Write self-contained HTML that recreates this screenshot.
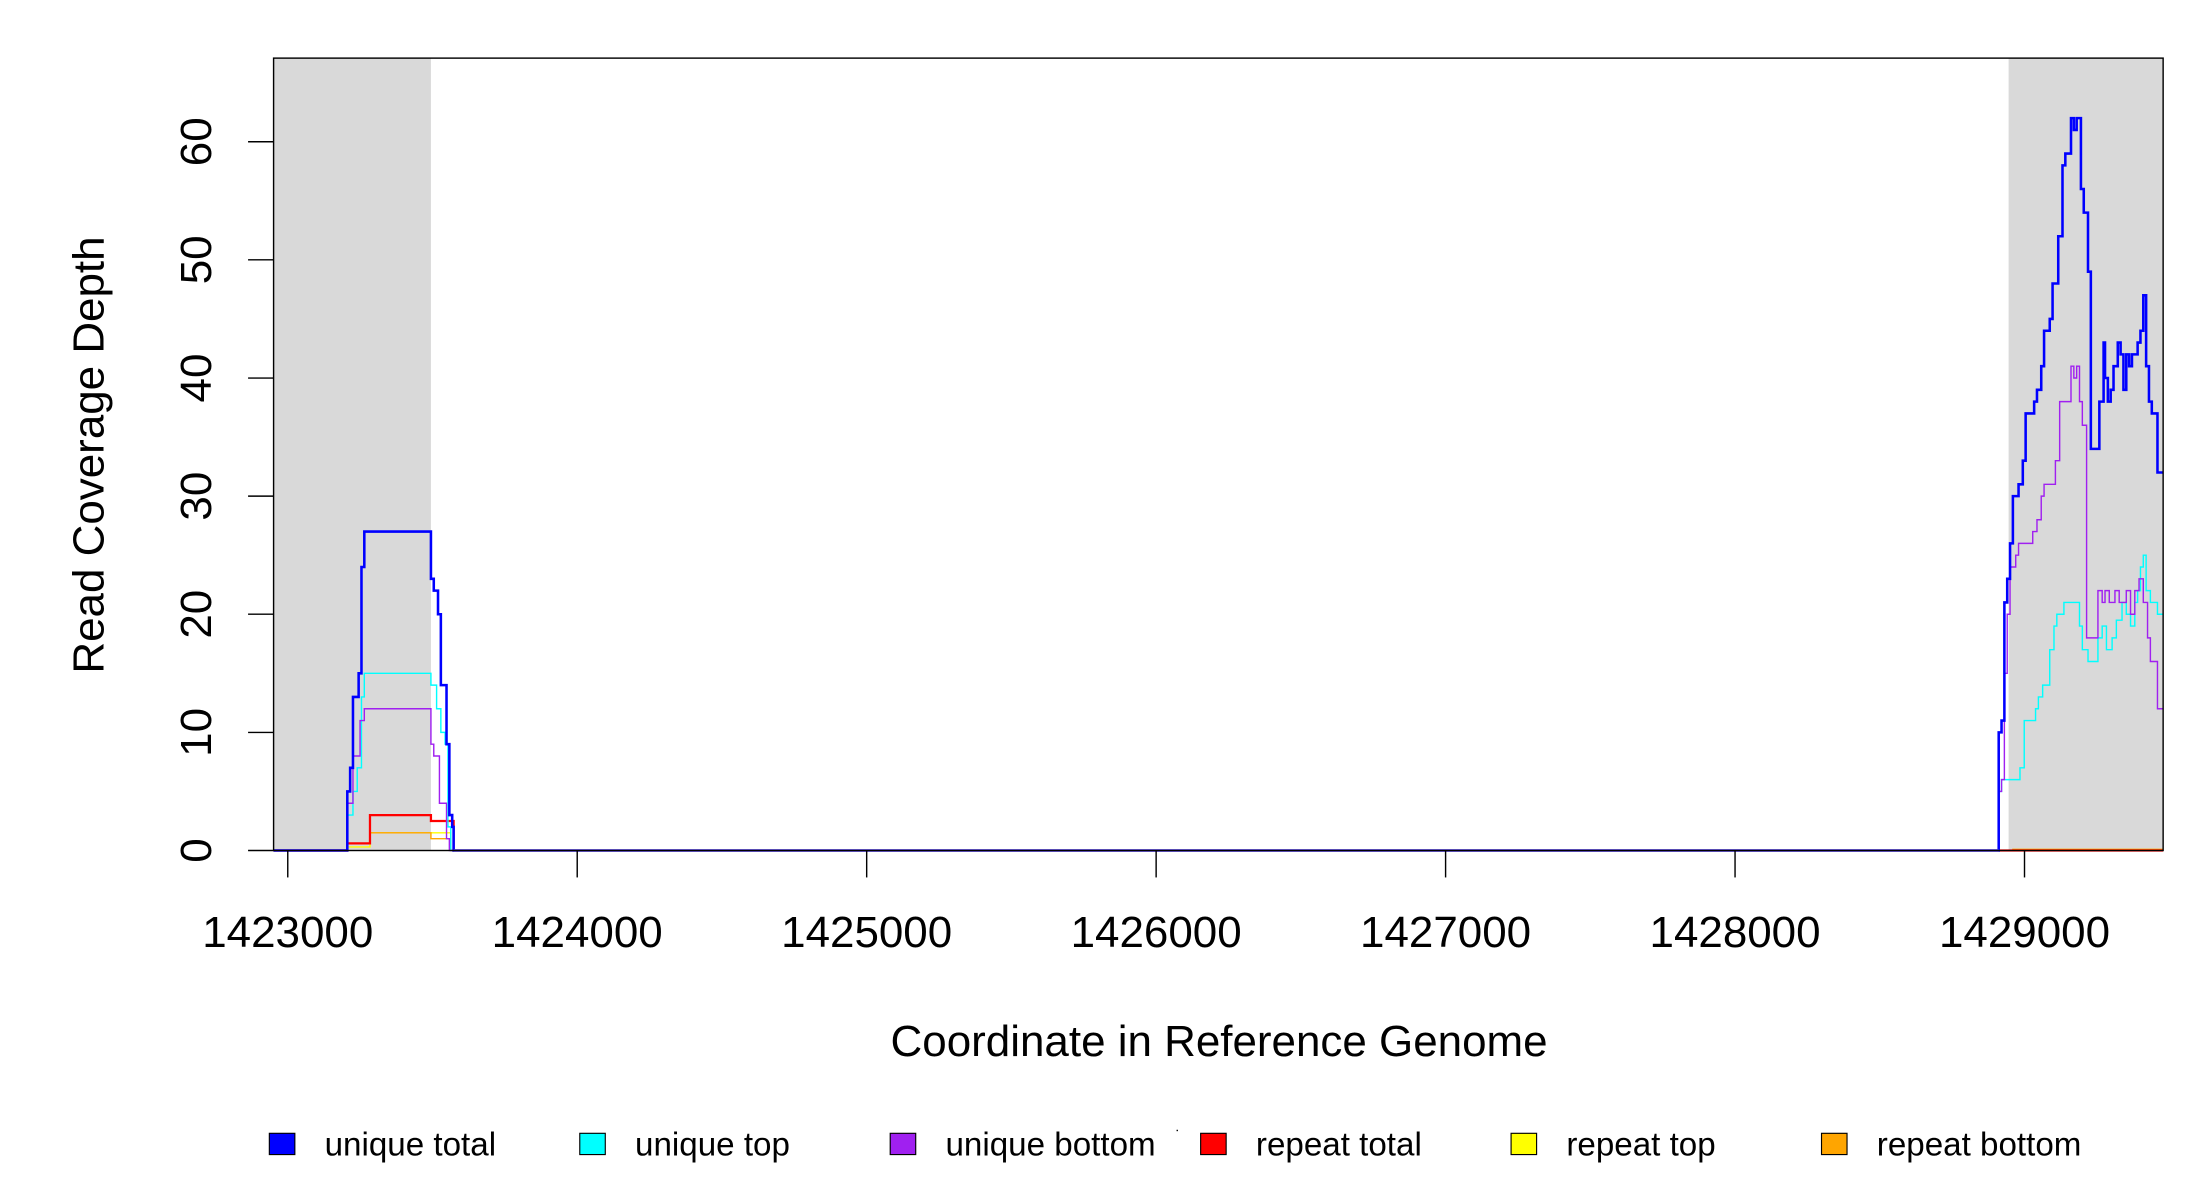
<!DOCTYPE html>
<html><head><meta charset="utf-8"><style>
html,body{margin:0;padding:0;background:#fff;overflow:hidden}
svg{display:block}
text{font-family:"Liberation Sans",sans-serif;fill:#000}
</style></head><body>
<svg id="s" width="2200" height="1200" viewBox="0 0 1552 846.55" xmlns="http://www.w3.org/2000/svg">
<rect x="193" y="41" width="111" height="559" fill="#d9d9d9"/>
<rect x="1417" y="41" width="109" height="559" fill="#d9d9d9"/>
<g id="lines"></g>
<rect x="193" y="41" width="1333" height="559" fill="none" stroke="#000" stroke-width="1"/>
<g stroke="#000" stroke-width="1">
<line x1="175" y1="600" x2="193" y2="600"/><line x1="175" y1="516.7" x2="193" y2="516.7"/>
<line x1="175" y1="433.3" x2="193" y2="433.3"/><line x1="175" y1="350" x2="193" y2="350"/>
<line x1="175" y1="266.7" x2="193" y2="266.7"/><line x1="175" y1="183.3" x2="193" y2="183.3"/>
<line x1="175" y1="100" x2="193" y2="100"/>
<line x1="203" y1="600" x2="203" y2="619"/><line x1="407.2" y1="600" x2="407.2" y2="619"/>
<line x1="611.4" y1="600" x2="611.4" y2="619"/><line x1="815.6" y1="600" x2="815.6" y2="619"/>
<line x1="1019.8" y1="600" x2="1019.8" y2="619"/><line x1="1224" y1="600" x2="1224" y2="619"/>
<line x1="1428.2" y1="600" x2="1428.2" y2="619"/>
</g>
<g font-size="31" text-anchor="middle">
<text transform="translate(149,600) rotate(-90)">0</text>
<text transform="translate(149,516.7) rotate(-90)">10</text>
<text transform="translate(149,433.3) rotate(-90)">20</text>
<text transform="translate(149,350) rotate(-90)">30</text>
<text transform="translate(149,266.7) rotate(-90)">40</text>
<text transform="translate(149,183.3) rotate(-90)">50</text>
<text transform="translate(149,100) rotate(-90)">60</text>
<text x="203" y="668">1423000</text><text x="407.2" y="668">1424000</text>
<text x="611.4" y="668">1425000</text><text x="815.6" y="668">1426000</text>
<text x="1019.8" y="668">1427000</text><text x="1224" y="668">1428000</text>
<text x="1428.2" y="668">1429000</text>
</g>
<text x="860" y="745" font-size="31" text-anchor="middle">Coordinate in Reference Genome</text>
<text transform="translate(73,321) rotate(-90)" font-size="31" text-anchor="middle">Read Coverage Depth</text>
<g stroke="#000" stroke-width="0.8">
<rect x="190" y="799.5" width="18" height="15" fill="#0000ff"/>
<rect x="409" y="799.5" width="18" height="15" fill="#00ffff"/>
<rect x="628" y="799.5" width="18" height="15" fill="#a020f0"/>
<rect x="847" y="799.5" width="18" height="15" fill="#ff0000"/>
<rect x="1066" y="799.5" width="18" height="15" fill="#ffff00"/>
<rect x="1285" y="799.5" width="18" height="15" fill="#ffa500"/>
</g>
<g font-size="23.4">
<text x="229" y="815">unique total</text><text x="448" y="815">unique top</text>
<text x="667" y="815">unique bottom</text><text x="886" y="815">repeat total</text>
<text x="1105" y="815">repeat top</text><text x="1324" y="815">repeat bottom</text>
</g>
<rect x="830" y="797" width="1" height="1" fill="#000"/>
</svg>
<script>
function Y(d){return 600-d*8.3333;}
function step(pts,end){var s="M193,"+Y(0);var prev=0;for(var i=0;i<pts.length;i+=2){var x=pts[i],d=pts[i+1];s+=" L"+x+","+Y(prev)+" L"+x+","+Y(d);prev=d;}s+=" L"+end+","+Y(prev);return s;}
var series=[
 {c:"#ffff00",w:1,p:[245,0.3,261,1.5,304,1.5,318,0,1526,0]},
 {c:"#ffa500",w:1,p:[245,0.6,261,1.5,304,1,318,0,1417,0,1420,0.1]},
 {c:"#ff0000",w:1.6,p:[245,0.6,261,3,304,2.5,318,2.5,320,0]},
 {c:"#00ffff",w:1,p:[245,3,249,5,252,7,255,13,257,15,304,14,308,12,311,10,314,9,316,2,318,0,1410,5,1412,6,1425,7,1428,11,1436,12,1438,13,1441,14,1446,17,1449,19,1451,20,1456,21,1467,19,1469,17,1473,16,1480,18,1483,19,1486,17,1490,18,1493,19.5,1497,21,1500,20,1503,19,1506,21,1508,22,1510,24,1512,25,1514,22,1517,21,1522,20]},
 {c:"#a020f0",w:1,p:[245,4,249,8,254,11,257,12,304,9,306,8,310,4,315,1,317,0,1410,5,1412,6,1414,15,1416,20,1418,24,1422,25,1424,26,1434,27,1437,28,1440,30,1442,31,1450,33,1453,38,1461,41,1463,40,1465,41,1467,38,1469,36,1472,18,1480,22,1483,21,1485,22,1488,21,1492,22,1495,21,1500,22,1503,20,1506,22,1509,23,1512,21,1515,18,1517,16,1522,12]},
 {c:"#0000ff",w:1.8,p:[245,5,247,7,249,13,253,15,255,24,257,27,304,23,306,22,309,20,311,14,315,9,317,3,319,2,320,0,1410,10,1412,11,1414,21,1416,23,1418,26,1420,30,1424,31,1427,33,1429,37,1435,38,1437,39,1440,41,1442,44,1446,45,1448,48,1452,52,1455,58,1457,59,1461,62,1463,61,1465,62,1468,56,1470,54,1473,49,1475,34,1481,38,1484,43,1485,40,1487,38,1489,39,1491,41,1494,43,1496,42,1498,39,1500,42,1502,41,1504,42,1508,43,1510,44,1512,47,1514,41,1516,38,1518,37,1522,32]}
];
var g=document.getElementById("lines"),h="";
series.forEach(function(s){h+='<path d="'+step(s.p,1526)+'" fill="none" stroke="'+s.c+'" stroke-width="'+s.w+'"/>';});
h+='<line x1="320" y1="600" x2="1410" y2="600" stroke="#6060e0" stroke-width="1.6"/>';
g.innerHTML=h;
</script>
</body></html>
